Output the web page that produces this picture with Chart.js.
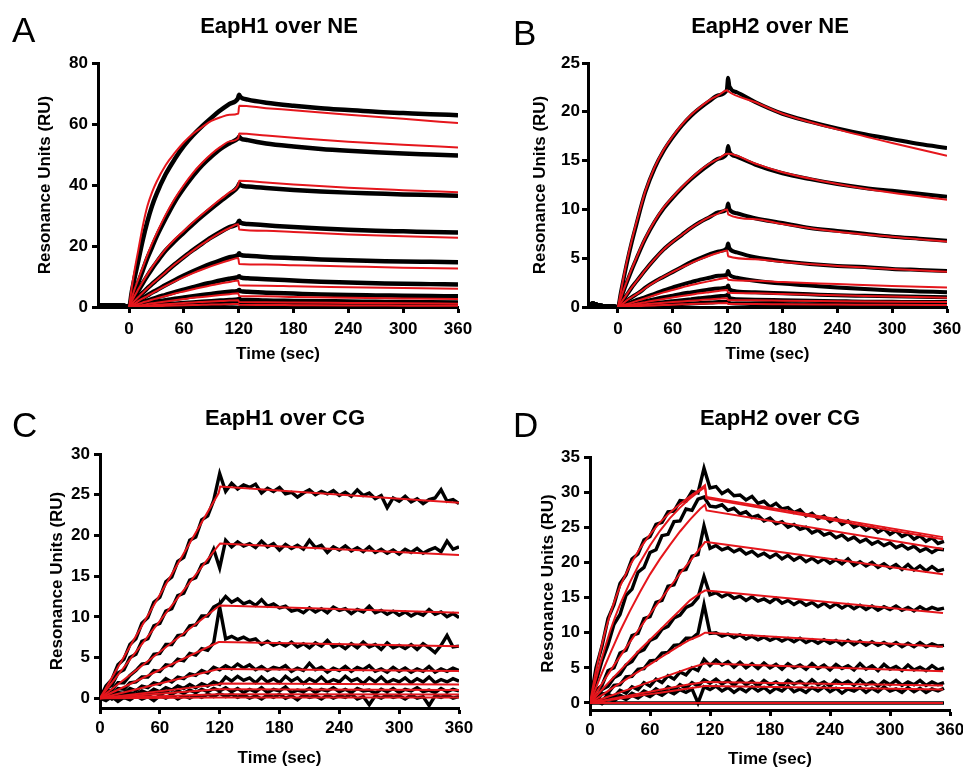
<!DOCTYPE html>
<html>
<head>
<meta charset="utf-8">
<script src="https://cdn.jsdelivr.net/npm/chart.js@4.4.1/dist/chart.umd.min.js"></script>
<style>
    body { margin: 0; background: #fff; width: 963px; height: 770px; position: relative; overflow: hidden; }
    canvas { position: absolute; }
</style>
</head>
<body>
<canvas id="cA" width="481" height="385" style="left:0;top:0"></canvas>
<canvas id="cB" width="482" height="385" style="left:481px;top:0"></canvas>
<canvas id="cC" width="481" height="385" style="left:0;top:385px"></canvas>
<canvas id="cD" width="482" height="385" style="left:481px;top:385px"></canvas>
<script>
// ---- data ----
const xTicks = [0, 60, 120, 180, 240, 300, 360];

// A: EapH1 over NE
const timeA = [-34, -20, -5, 0, 3, 6, 10, 15, 20, 25, 30, 40, 50, 60, 70, 80, 90, 100, 110, 119, 120.5, 122, 130, 150, 180, 210, 240, 270, 300, 330, 360];
const blackA = [
    [0.5, 0.4, 0.3, 0, 5, 9.5, 15, 22, 28, 33, 37, 43.5, 48.5, 52.8, 56.3, 59.3, 62, 64.5, 66.6, 68.3, 69.6, 68.8, 68, 67, 66, 65.2, 64.6, 64, 63.6, 63.2, 62.9],
    [0.5, 0.4, 0.3, 0, 2.5, 5, 8, 12, 16, 19.5, 23, 29, 34.5, 39, 43, 46.5, 49.3, 51.8, 53.7, 55.2, 55.8, 55.3, 54.7, 53.6, 52.6, 51.8, 51.2, 50.7, 50.3, 50, 49.7],
    [0.5, 0.4, 0.3, 0, 1.7, 3.3, 5.3, 7.8, 10.2, 12.5, 14.6, 18.5, 21.6, 24.4, 27.2, 29.8, 32.3, 34.7, 37, 39.4, 40.4, 39.9, 39.5, 39, 38.4, 37.9, 37.5, 37.2, 36.9, 36.7, 36.5],
    [0.5, 0.4, 0.3, 0, 1, 2, 3.2, 4.7, 6.1, 7.5, 8.8, 11.4, 14, 16.4, 18.7, 20.8, 22.8, 24.6, 26.2, 27.4, 28.3, 27.6, 27.2, 26.8, 26.2, 25.7, 25.3, 25, 24.8, 24.6, 24.4],
    [0.5, 0.4, 0.3, 0, 0.6, 1.2, 2, 2.9, 3.8, 4.7, 5.5, 7.2, 8.8, 10.3, 11.7, 13, 14.2, 15.3, 16.3, 17, 17.6, 17.1, 16.8, 16.4, 16, 15.6, 15.3, 15.1, 14.9, 14.8, 14.7],
    [0.5, 0.4, 0.3, 0, 0.3, 0.7, 1.1, 1.6, 2.1, 2.6, 3.1, 4, 4.9, 5.7, 6.5, 7.3, 8, 8.7, 9.3, 9.8, 10.1, 9.7, 9.4, 9.1, 8.7, 8.3, 8, 7.8, 7.6, 7.5, 7.4],
    [0.5, 0.4, 0.3, 0, 0.2, 0.35, 0.6, 0.85, 1.1, 1.4, 1.7, 2.2, 2.7, 3.1, 3.5, 3.9, 4.3, 4.7, 5, 5.3, 5.6, 5.2, 5, 4.7, 4.4, 4.1, 3.9, 3.8, 3.7, 3.6, 3.5],
    [0.5, 0.4, 0.3, 0, 0.1, 0.2, 0.3, 0.4, 0.5, 0.6, 0.7, 0.9, 1.1, 1.3, 1.5, 1.7, 1.9, 2.1, 2.3, 2.5, 2.7, 2.4, 2.3, 2.1, 2, 1.9, 1.8, 1.7, 1.6, 1.55, 1.5],
    [0.5, 0.4, 0.3, 0, 0.05, 0.1, 0.15, 0.2, 0.25, 0.3, 0.35, 0.45, 0.55, 0.65, 0.75, 0.85, 0.95, 1.05, 1.15, 1.2, 1.3, 1.1, 1, 0.9, 0.8, 0.75, 0.7, 0.6, 0.55, 0.5, 0.5]
];
const fitTimeA = [0, 3, 6, 10, 15, 20, 25, 30, 40, 50, 60, 70, 80, 90, 100, 110, 119.5, 120.5, 150, 180, 240, 300, 360];
const fitA = [
    [0, 6.5, 12, 18.5, 26.5, 33, 37.5, 41, 46.5, 50.5, 54, 56.8, 59, 61, 62.2, 63, 63.4, 66, 65.2, 64.5, 63, 61.7, 60.3],
    [0, 3, 5.8, 9, 13, 17, 20.7, 24, 30.2, 35.5, 40, 44, 47.3, 50.2, 52.5, 54.3, 55.3, 56.9, 56.2, 55.5, 54.2, 53.2, 52.3],
    [0, 1.9, 3.6, 5.7, 8.3, 10.7, 13, 15.1, 19, 22.2, 25, 27.8, 30.4, 32.9, 35.3, 37.6, 40.2, 41.4, 40.8, 40.2, 39.1, 38.3, 37.6],
    [0, 1, 2, 3.2, 4.7, 6.1, 7.5, 8.8, 11.4, 14, 16.3, 18.5, 20.6, 22.6, 24.4, 25.9, 27.1, 25.4, 25, 24.6, 23.8, 23.2, 22.7],
    [0, 0.6, 1.1, 1.9, 2.8, 3.6, 4.5, 5.3, 6.9, 8.4, 9.8, 11.1, 12.3, 13.4, 14.4, 15.3, 16.1, 14.1, 13.9, 13.7, 13.3, 12.9, 12.6],
    [0, 0.3, 0.6, 1, 1.5, 1.9, 2.4, 2.8, 3.6, 4.4, 5.1, 5.8, 6.5, 7.1, 7.7, 8.2, 8.7, 7.1, 7, 6.8, 6.5, 6.2, 6],
    [0, 0.15, 0.3, 0.5, 0.7, 0.95, 1.2, 1.4, 1.8, 2.2, 2.6, 3, 3.3, 3.6, 3.9, 4.2, 4.5, 3.6, 3.5, 3.3, 3, 2.8, 2.6],
    [0, 0.07, 0.14, 0.23, 0.35, 0.47, 0.58, 0.7, 0.9, 1.1, 1.3, 1.5, 1.65, 1.8, 1.95, 2.1, 2.2, 1.6, 1.55, 1.5, 1.35, 1.2, 1.1],
    [0, 0.03, 0.06, 0.1, 0.15, 0.2, 0.25, 0.3, 0.38, 0.46, 0.54, 0.62, 0.7, 0.78, 0.86, 0.93, 1, 0.7, 0.65, 0.6, 0.5, 0.45, 0.4]
];

// B: EapH2 over NE
const timeB = [-33, -28, -20, -5, 0, 3, 6, 10, 15, 20, 25, 30, 40, 50, 60, 70, 80, 90, 100, 110, 119, 120.5, 122, 130, 150, 180, 210, 240, 270, 300, 330, 360];
const blackB = [
    [0.1, 0.35, 0.15, 0.05, 0, 1.4, 2.8, 4.6, 6.6, 8.4, 10.2, 11.8, 14.2, 16, 17.4, 18.6, 19.6, 20.4, 21.1, 21.7, 22.2, 23.5, 22.6, 22, 21, 19.8, 19, 18.3, 17.7, 17.2, 16.7, 16.3],
    [0.1, 0.35, 0.15, 0.05, 0, 0.8, 1.6, 2.6, 3.8, 4.9, 6, 7, 8.7, 10.1, 11.2, 12.2, 13.1, 13.9, 14.6, 15.2, 15.7, 16.5, 15.9, 15.4, 14.6, 13.7, 13.1, 12.6, 12.2, 11.9, 11.6, 11.3],
    [0.1, 0.35, 0.15, 0.05, 0, 0.4, 0.8, 1.3, 2, 2.6, 3.2, 3.8, 4.9, 5.9, 6.7, 7.4, 8.1, 8.7, 9.2, 9.7, 10, 10.6, 10, 9.6, 9.1, 8.6, 8.1, 7.8, 7.5, 7.2, 7, 6.8],
    [0.1, 0.35, 0.15, 0.05, 0, 0.2, 0.4, 0.7, 1, 1.3, 1.6, 2, 2.6, 3.1, 3.6, 4.1, 4.6, 5, 5.4, 5.7, 6, 6.5, 6, 5.6, 5.1, 4.7, 4.4, 4.2, 4.1, 3.9, 3.8, 3.7],
    [0.1, 0.35, 0.15, 0.05, 0, 0.1, 0.2, 0.35, 0.5, 0.7, 0.85, 1, 1.35, 1.7, 2, 2.3, 2.55, 2.8, 3, 3.2, 3.3, 3.7, 3.3, 3, 2.7, 2.4, 2.2, 2, 1.85, 1.7, 1.6, 1.5],
    [0.1, 0.35, 0.15, 0.05, 0, 0.05, 0.1, 0.2, 0.3, 0.4, 0.5, 0.6, 0.8, 1, 1.15, 1.35, 1.5, 1.65, 1.8, 1.9, 2, 2.2, 1.8, 1.6, 1.5, 1.4, 1.3, 1.2, 1.15, 1.1, 1.05, 1],
    [0.1, 0.35, 0.15, 0.05, 0, 0.03, 0.06, 0.1, 0.15, 0.2, 0.25, 0.3, 0.4, 0.5, 0.6, 0.7, 0.8, 0.9, 1, 1.1, 1.2, 1.3, 0.9, 0.8, 0.75, 0.7, 0.65, 0.6, 0.55, 0.55, 0.5, 0.5],
    [0.1, 0.35, 0.15, 0.05, 0, 0.01, 0.02, 0.04, 0.06, 0.08, 0.1, 0.12, 0.16, 0.2, 0.25, 0.3, 0.35, 0.4, 0.45, 0.5, 0.5, 0.6, 0.4, 0.35, 0.3, 0.3, 0.25, 0.25, 0.2, 0.2, 0.2, 0.2]
];
const fitTimeB = [0, 3, 6, 10, 15, 20, 25, 30, 40, 50, 60, 70, 80, 90, 100, 110, 119.5, 120.5, 150, 180, 240, 300, 360];
const fitB = [
    [0, 1.5, 3, 4.8, 6.8, 8.6, 10.3, 11.9, 14.3, 16.1, 17.5, 18.7, 19.7, 20.5, 21.2, 21.7, 22.2, 22.1, 21, 19.8, 18.2, 16.8, 15.5],
    [0, 0.85, 1.7, 2.7, 3.9, 5, 6.1, 7.1, 8.8, 10.2, 11.3, 12.3, 13.2, 14, 14.7, 15.2, 15.7, 15.7, 14.7, 13.8, 12.6, 11.7, 11],
    [0, 0.4, 0.8, 1.35, 2, 2.6, 3.2, 3.8, 4.9, 5.9, 6.7, 7.4, 8.1, 8.7, 9.2, 9.6, 10, 9.5, 9, 8.5, 7.7, 7.2, 6.7],
    [0, 0.2, 0.4, 0.7, 1, 1.3, 1.6, 1.95, 2.55, 3.1, 3.6, 4.05, 4.5, 4.9, 5.25, 5.55, 5.8, 5.2, 4.9, 4.6, 4.2, 3.9, 3.6],
    [0, 0.1, 0.2, 0.3, 0.45, 0.6, 0.75, 0.9, 1.2, 1.5, 1.75, 2, 2.25, 2.45, 2.65, 2.85, 3, 2.8, 2.7, 2.55, 2.35, 2.15, 2],
    [0, 0.05, 0.1, 0.17, 0.25, 0.33, 0.42, 0.5, 0.67, 0.83, 0.98, 1.12, 1.26, 1.4, 1.52, 1.64, 1.75, 1.45, 1.4, 1.32, 1.2, 1.07, 0.95],
    [0, 0.03, 0.06, 0.1, 0.14, 0.18, 0.22, 0.27, 0.35, 0.43, 0.5, 0.57, 0.64, 0.71, 0.78, 0.84, 0.9, 0.7, 0.68, 0.65, 0.6, 0.55, 0.5],
    [0, 0.01, 0.02, 0.04, 0.06, 0.08, 0.1, 0.12, 0.16, 0.2, 0.23, 0.27, 0.3, 0.33, 0.36, 0.38, 0.4, 0.3, 0.3, 0.28, 0.25, 0.22, 0.2]
];

// C: EapH1 over CG
const timeC = [0, 6, 12, 18, 24, 30, 36, 42, 48, 54, 60, 66, 72, 78, 84, 90, 96, 102, 108, 114, 120, 126, 132, 138, 144, 150, 156, 162, 168, 174, 180, 186, 192, 198, 204, 210, 216, 222, 228, 234, 240, 246, 252, 258, 264, 270, 276, 282, 288, 294, 300, 306, 312, 318, 324, 330, 336, 342, 348, 354, 360];
const blackC = [
    [0, 1.5, 2.3, 4.1, 4.8, 6.6, 7.3, 9.2, 9.9, 11.8, 12.4, 14.3, 14.9, 16.8, 17.3, 19.4, 19.8, 21.9, 22.4, 24.3, 27.6,
     25.4, 26.4, 25.7, 26.2, 25.9, 26.3, 25.2, 25.8, 25.4, 25.9, 25.1, 25.3, 24.7, 25.2, 25.6, 25.0, 25.4, 25.1, 25.5, 24.9,
     25.3, 24.8, 25.6, 24.9, 25.2, 24.5, 24.9, 23.4, 24.6, 24.2, 24.8, 24.1, 24.5, 23.9, 24.4, 24.6, 25.6, 24.2, 24.4, 23.9],
    [0, 1.2, 1.6, 3.1, 3.5, 5.0, 5.4, 7.0, 7.3, 8.9, 9.2, 10.7, 11.0, 12.6, 12.9, 14.5, 14.8, 16.4, 16.7, 18.3, 16.0,
     19.4, 18.6, 19.2, 18.7, 19.0, 18.5, 19.3, 18.6, 19.0, 18.2, 18.9, 18.4, 18.8, 18.3, 19.4, 18.5, 18.8, 17.9, 18.6, 18.2,
     18.7, 18.1, 18.5, 18.0, 18.6, 17.9, 18.3, 17.8, 18.2, 17.7, 18.3, 17.9, 18.4, 17.8, 18.2, 18.5, 18.0, 19.3, 18.3, 18.6],
    [0, 0.9, 1.0, 1.9, 1.9, 2.8, 3.4, 4.2, 4.3, 5.4, 5.5, 6.6, 6.6, 7.7, 7.8, 8.9, 9.0, 10.1, 10.1, 11.2, 11.6,
     12.5, 11.8, 12.2, 11.6, 11.9, 11.4, 12.1, 11.3, 11.6, 11.1, 11.3, 10.7, 10.9, 10.5, 11.1, 10.6, 11.0, 10.5, 11.2, 10.8,
     11.0, 10.4, 10.9, 10.6, 11.3, 10.5, 10.8, 10.3, 10.7, 10.2, 10.6, 10.1, 10.5, 10.2, 10.9, 10.3, 10.6, 10.0, 10.4, 9.9],
    [0, 0.6, 0.5, 1.2, 1.1, 1.9, 2.0, 2.6, 2.6, 3.4, 3.3, 4.1, 4.0, 4.8, 4.6, 5.5, 5.3, 6.1, 5.9, 6.8, 11.2,
     7.3, 7.6, 7.2, 7.5, 7.1, 7.3, 6.6, 7.0, 6.5, 6.8, 6.4, 6.9, 6.3, 6.7, 6.2, 6.8, 6.4, 7.1, 6.3, 6.6,
     6.1, 6.7, 6.2, 6.9, 6.3, 6.6, 6.0, 6.8, 6.2, 6.5, 6.1, 6.6, 6.0, 6.7, 6.2, 5.6, 6.5, 7.7, 6.3, 6.4],
    [0, 0.5, 0.2, 0.7, 0.6, 1.2, 0.9, 1.5, 1.3, 1.9, 1.7, 2.4, 2.0, 2.6, 2.4, 3.0, 2.8, 3.4, 3.1, 3.8, 3.5,
     4.0, 3.6, 4.2, 3.7, 4.1, 3.5, 3.9, 3.4, 3.8, 3.6, 4.0, 3.3, 3.7, 3.4, 4.3, 3.5, 3.8, 3.2, 3.7, 3.4,
     3.9, 3.3, 3.8, 3.5, 4.0, 3.3, 3.6, 3.2, 3.8, 3.3, 3.7, 3.2, 3.6, 3.3, 3.9, 3.2, 3.6, 3.3, 3.7, 3.4],
    [0, 0.4, 0.1, 0.5, 0.3, 0.7, 0.5, 0.9, 0.6, 1.1, 0.8, 1.3, 1.0, 1.5, 1.2, 1.7, 1.3, 1.8, 1.5, 2.0, 1.7,
     2.6, 2.1, 2.7, 2.2, 2.5, 1.9, 2.6, 2.0, 2.4, 1.9, 2.7, 2.1, 2.5, 1.8, 2.4, 2.0, 2.6, 1.9, 2.3, 2.0,
     2.7, 2.1, 2.4, 1.8, 2.5, 2.0, 2.6, 1.9, 2.3, 2.0, 2.5, 1.9, 2.4, 2.0, 2.6, 1.9, 2.3, 2.0, 2.4, 2.1],
    [0, 0.3, -0.1, 0.3, 0.1, 0.4, 0.2, 0.6, 0.3, 0.7, 0.4, 0.8, 0.5, 0.9, 0.6, 1.0, 0.7, 1.1, 0.8, 1.2, 0.9,
     1.3, 0.8, 1.2, 0.7, 1.1, 0.8, 1.3, 0.7, 1.1, 0.9, 1.4, 0.7, 1.0, 0.8, 1.2, 0.7, 1.1, 0.9, 1.3, 0.8,
     1.1, 0.7, 1.2, 0.9, 1.0, 0.6, 1.1, 0.8, 1.2, 0.7, 1.1, 0.9, 1.3, 0.8, 1.0, 0.7, 1.2, 0.8, 1.1, 0.9],
    [0, -0.3, 0.2, -0.4, 0.1, -0.2, 0.3, -0.1, 0.2, -0.3, 0.3, 0, 0.4, -0.1, 0.3, 0, 0.4, 0.1, 0.5, 0.2, 0.6,
     0.2, 0.5, 0.1, 0.4, 0, 0.3, -0.1, 0.4, 0.1, 0.5, 0, 0.3, -0.2, 0.4, 0.1, 0.3, -0.1, 0.4, 0, 0.3,
     0.1, 0.5, -0.1, 0.2, -0.8, 0.3, 0, 0.4, 0.1, 0.3, -0.1, 0.4, 0, 0.2, -0.9, 0.3, 0.1, 0.4, 0, 0.2]
];
const fitTimeC = [0, 119, 120.5, 360];
const fitC = [
    [0, 25.2, 26, 24], [0, 18.8, 19, 17.6], [0, 11.3, 11.4, 10.5], [0, 6.9, 6.9, 6.4], [0, 3.6, 3.6, 3.35],
    [0, 1.7, 1.8, 1.7], [0, 1.1, 1.1, 1], [0, 0.5, 0.5, 0.45], [0, 0.1, 0.1, 0.1]
];

// D: EapH2 over CG
const timeD = [0, 6, 12, 18, 24, 30, 36, 42, 48, 54, 60, 66, 72, 78, 84, 90, 96, 102, 108, 114, 120, 126, 132, 138, 144, 150, 156, 162, 168, 174, 180, 186, 192, 198, 204, 210, 216, 222, 228, 234, 240, 246, 252, 258, 264, 270, 276, 282, 288, 294, 300, 306, 312, 318, 324, 330, 336, 342, 348, 354];
const blackD = [
    [0, 5.0, 8.1, 12.0, 14.0, 17.0, 18.2, 20.5, 21.2, 23.2, 23.7, 25.4, 25.7, 27.2, 27.3, 28.8, 28.7, 30.1, 29.9, 33.4,
     30.6, 30.8, 29.8, 30.3, 29.5, 29.6, 28.9, 29.4, 28.4, 28.7, 27.9, 28.4, 27.6, 27.8, 27.1, 27.5, 26.6, 27.0, 26.2, 26.6,
     25.8, 26.3, 25.4, 25.9, 25.0, 25.4, 24.6, 25.1, 24.3, 24.8, 24.0, 24.5, 23.7, 24.1, 23.3, 23.8, 23.0, 23.5, 22.7, 23.0],
    [0, 3.0, 6.0, 8.3, 11.2, 12.6, 15.3, 16.2, 18.6, 19.3, 21.4, 21.8, 23.8, 24.0, 25.8, 25.9, 27.6, 27.4, 29.0, 29.3,
     28.0, 27.9, 28.2, 27.4, 27.7, 26.9, 27.2, 26.4, 26.7, 25.9, 26.3, 25.5, 25.8, 25.0, 25.4, 24.7, 25.0, 24.2, 24.6, 23.9,
     24.2, 23.5, 23.9, 23.2, 23.6, 22.9, 23.3, 22.6, 23.0, 22.4, 22.8, 22.1, 22.5, 21.9, 22.3, 21.6, 22.0, 21.4, 21.9, 21.8],
    [0, 1.8, 2.5, 4.6, 5.0, 7.1, 7.5, 9.6, 9.9, 12.0, 12.3, 14.3, 14.6, 16.6, 16.8, 18.8, 19.0, 20.9, 21.1, 25.2,
     22.0, 22.4, 21.8, 22.1, 21.5, 21.9, 21.2, 21.6, 20.9, 21.3, 20.7, 21.2, 20.5, 21.0, 20.3, 20.8, 20.1, 20.6, 20.0, 20.5,
     19.9, 20.4, 19.8, 20.5, 19.6, 20.1, 19.5, 20.0, 19.3, 19.8, 19.2, 19.7, 19.0, 19.7, 18.9, 19.5, 18.8, 19.4, 18.8, 19.0],
    [0, 0.8, 1.9, 2.4, 3.6, 4.1, 5.4, 5.9, 7.2, 7.6, 8.9, 9.3, 10.5, 10.9, 12.1, 12.5, 13.6, 14.0, 15.0, 18.0,
     15.4, 15.7, 15.1, 15.5, 14.9, 15.2, 14.6, 15.1, 14.5, 14.8, 14.3, 14.9, 14.2, 14.6, 14.0, 14.5, 13.9, 14.3, 13.7, 14.2,
     13.6, 14.1, 13.5, 14.0, 13.4, 13.9, 13.3, 13.8, 13.2, 13.7, 13.3, 13.8, 13.2, 13.6, 13.1, 13.7, 13.2, 13.6, 13.3, 13.5],
    [0, 0.2, 1.3, 1.4, 2.5, 2.6, 3.7, 3.8, 4.8, 4.9, 6.0, 6.1, 7.1, 7.2, 8.2, 8.3, 9.2, 9.2, 9.9, 14.0,
     9.9, 10.0, 9.5, 9.8, 9.3, 9.7, 9.1, 9.5, 9.0, 9.4, 8.9, 9.3, 8.8, 9.2, 8.7, 9.2, 8.6, 9.0, 8.5, 9.0,
     8.5, 8.9, 8.3, 8.9, 8.3, 8.8, 8.2, 8.7, 8.2, 8.6, 8.1, 8.6, 8.0, 8.5, 8.0, 8.6, 8.0, 8.4, 8.1, 8.2],
    [0, 0.7, 0.3, 1.2, 0.9, 1.8, 1.4, 2.3, 1.9, 2.9, 2.4, 3.4, 2.9, 3.9, 3.4, 4.4, 4.0, 5.0, 4.6, 6.2,
     5.3, 6.1, 5.4, 5.9, 5.1, 5.8, 5.0, 5.6, 4.9, 5.7, 5.0, 5.5, 4.8, 5.6, 5.0, 5.4, 4.8, 5.6, 4.9, 5.4,
     4.7, 5.5, 4.9, 5.3, 4.7, 5.6, 4.8, 5.3, 4.6, 5.5, 4.8, 5.2, 4.6, 5.4, 4.7, 5.1, 4.6, 5.3, 4.7, 5.0],
    [0, 0.5, 0.1, 0.8, 0.4, 1.1, 0.7, 1.4, 1.0, 1.7, 1.3, 2.0, 1.5, 2.3, 1.8, 2.6, 2.1, 2.9, 2.4, 3.3,
     2.8, 3.4, 2.7, 3.2, 2.5, 3.3, 2.6, 3.1, 2.4, 3.2, 2.6, 3.0, 2.4, 3.2, 2.7, 3.1, 2.5, 3.3, 2.6, 3.0,
     2.4, 3.2, 2.7, 3.1, 2.5, 3.3, 2.6, 3.0, 2.4, 3.1, 2.6, 3.2, 2.5, 3.0, 2.6, 3.2, 2.5, 3.0, 2.6, 2.9],
    [0, 0.4, -0.1, 0.6, 0.3, 0.9, 0.5, 1.1, 0.7, 1.3, 0.9, 1.5, 1.1, 1.7, 1.3, 1.9, 1.5, 2.0, 0.0, 2.3,
     1.9, 2.4, 1.7, 2.2, 1.5, 2.1, 1.6, 2.3, 1.7, 2.2, 1.5, 2.1, 1.7, 2.4, 1.6, 2.0, 1.5, 2.2, 1.7, 2.3,
     1.6, 2.1, 1.4, 2.0, 1.7, 2.2, 1.5, 2.1, 1.6, 2.3, 1.7, 2.0, 1.5, 2.2, 1.6, 2.1, 1.5, 2.0, 1.7, 2.1]
];
const baseTimeD = [0, 354];
const baseD = [0, 0];
const fitTimeD = [0, 5, 10, 15, 20, 25, 30, 40, 50, 60, 70, 80, 90, 100, 110, 115, 116.5, 353];
const fitD = [
    [0, 3.9, 7.2, 10.1, 12.6, 14.7, 16.6, 19.6, 22.0, 24.0, 25.7, 27.1, 28.3, 29.4, 30.4, 31.0, 29.3, 23.6],
    [0, 2.9, 5.5, 7.9, 10.2, 12.2, 14, 17.2, 20, 22.4, 24.5, 26.3, 27.8, 29.1, 30.2, 30.7, 29.1, 23.3],
    [0, 1.8, 3.6, 5.3, 7, 8.6, 10.2, 13.1, 15.8, 18.3, 20.5, 22.5, 24.4, 26.1, 27.6, 28.2, 27.4, 21.9],
    [0, 1.15, 2.3, 3.4, 4.5, 5.6, 6.6, 8.7, 10.7, 12.7, 14.6, 16.5, 18.4, 20.2, 22, 22.9, 22.9, 18.3],
    [0, 0.8, 1.6, 2.35, 3.1, 3.85, 4.6, 6.1, 7.6, 9, 10.4, 11.8, 13.2, 14.6, 15.6, 16, 16, 12.8],
    [0, 0.48, 0.95, 1.4, 1.9, 2.35, 2.8, 3.7, 4.6, 5.5, 6.4, 7.3, 8.2, 9, 9.6, 10, 10, 8],
    [0, 0.25, 0.5, 0.75, 1, 1.25, 1.5, 2, 2.5, 3, 3.5, 4, 4.5, 5, 5.4, 5.6, 5.6, 4.5],
    [0, 0.14, 0.27, 0.4, 0.54, 0.67, 0.8, 1.07, 1.34, 1.6, 1.87, 2.13, 2.4, 2.65, 2.88, 3, 3, 2.5],
    [0, 0.11, 0.22, 0.33, 0.43, 0.54, 0.64, 0.85, 1.05, 1.26, 1.47, 1.67, 1.88, 2.1, 2.3, 2.4, 2.4, 1.9],
    [0, 0, 0, 0, 0, 0, 0, 0, 0, 0, 0, 0, 0, 0, 0, 0, 0, 0]
];

// ---- drawing ----
const FONT = '"Liberation Sans", Arial, Helvetica, sans-serif';
const RED = '#e5161c';
Chart.defaults.font.family = FONT;
Chart.defaults.color = '#000';

const toPoints = (times, values) => values.map((y, i) => ({ x: times[i], y }));

const lineSet = (times, values, color, width, smooth, order) => ({
    data: toPoints(times, values),
    borderColor: color,
    borderWidth: width,
    pointRadius: 0,
    fill: false,
    tension: 0,
    cubicInterpolationMode: smooth ? 'monotone' : 'default',
    borderJoinStyle: smooth ? 'round' : 'miter',
    order
});

// panel letter and title
const panelText = {
    id: 'panelText',
    afterDraw(chart, args, opts) {
        const ctx = chart.ctx;
        ctx.save();
        ctx.fillStyle = '#000';
        ctx.textBaseline = 'alphabetic';
        ctx.textAlign = 'left';
        ctx.font = '35px ' + FONT;
        ctx.fillText(opts.letter, opts.letterX, opts.letterY);
        ctx.textAlign = 'center';
        ctx.font = 'bold 22px ' + FONT;
        ctx.fillText(opts.title, opts.titleX, opts.titleY);
        ctx.restore();
    }
};

const axisStyle = (tickPad) => ({
    ticks: { autoSkip: false, maxRotation: 0, padding: tickPad, color: '#000', font: { size: 17, weight: 'bold' } },
    grid: { drawOnChartArea: false, drawTicks: true, tickLength: 6, tickWidth: 3, tickColor: '#000' },
    border: { display: true, color: '#000', width: 3 }
});

const makePanel = (id, cfg, datasets) => {
    new Chart(document.getElementById(id), {
        type: 'line',
        data: { datasets },
        plugins: [panelText],
        options: {
            responsive: false,
            animation: false,
            events: [],
            layout: { padding: { top: cfg.padTop, right: cfg.padRight, left: 0, bottom: 0 } },
            plugins: {
                legend: { display: false },
                tooltip: { enabled: false },
                panelText: cfg.text
            },
            scales: {
                x: {
                    type: 'linear',
                    min: cfg.xMin,
                    max: 360,
                    ...axisStyle(cfg.xTickPad),
                    afterBuildTicks: (s) => { s.ticks = xTicks.map(v => ({ value: v })); },
                    afterFit: (s) => { s.height = cfg.xHeight; s.paddingLeft = 0; s.paddingRight = 0; },
                    title: { display: true, text: 'Time (sec)', color: '#000', font: { size: 17, weight: 'bold' }, padding: { top: 0, bottom: cfg.xTitlePad } }
                },
                y: {
                    type: 'linear',
                    min: cfg.yMin,
                    max: cfg.yMax,
                    ...axisStyle(cfg.yTickPad),
                    afterBuildTicks: (s) => { s.ticks = cfg.yTicks.map(v => ({ value: v })); },
                    afterFit: (s) => { s.width = cfg.yWidth; s.paddingTop = 0; s.paddingBottom = 0; },
                    title: { display: true, text: 'Resonance Units (RU)', color: '#000', font: { size: 17, weight: 'bold' }, padding: { top: cfg.yTitlePad, bottom: 0 } }
                }
            }
        }
    });
};

makePanel('cA', {
    padTop: 63, padRight: 23, yWidth: 98, xHeight: 78, xMin: -34, yMin: 0, yMax: 80,
    yTicks: [0, 20, 40, 60, 80], yTitlePad: 34.8, xTitlePad: 20.8, yTickPad: 4, xTickPad: 6,
    text: { letter: 'A', letterX: 12, letterY: 42, title: 'EapH1 over NE', titleX: 279, titleY: 33 }
}, [
    ...fitA.map(v => lineSet(fitTimeA, v, RED, 2, true, 0)),
    ...blackA.map(v => lineSet(timeA, v, '#000', 4.5, true, 1))
]);

makePanel('cB', {
    padTop: 63, padRight: 16, yWidth: 107, xHeight: 78, xMin: -32.8, yMin: 0, yMax: 25,
    yTicks: [0, 5, 10, 15, 20, 25], yTitlePad: 48.8, xTitlePad: 20.8, yTickPad: 2, xTickPad: 6,
    text: { letter: 'B', letterX: 32, letterY: 45, title: 'EapH2 over NE', titleX: 289, titleY: 33 }
}, [
    ...fitB.map(v => lineSet(fitTimeB, v, RED, 2, true, 0)),
    ...blackB.map(v => lineSet(timeB, v, '#000', 4, true, 1))
]);

makePanel('cC', {
    padTop: 69, padRight: 22, yWidth: 100, xHeight: 62, xMin: 0, yMin: -1.2, yMax: 30,
    yTicks: [0, 5, 10, 15, 20, 25, 30], yTitlePad: 46.8, xTitlePad: 1.8, yTickPad: 4, xTickPad: 4,
    text: { letter: 'C', letterX: 12, letterY: 52, title: 'EapH1 over CG', titleX: 285, titleY: 40 }
}, [
    ...fitC.map(v => lineSet(fitTimeC, v, RED, 2, false, 0)),
    ...blackC.map(v => lineSet(timeC, v, '#000', 3.4, false, 1))
]);

makePanel('cD', {
    padTop: 72, padRight: 13, yWidth: 109, xHeight: 60, xMin: 0, yMin: -1, yMax: 35,
    yTicks: [0, 5, 10, 15, 20, 25, 30, 35], yTitlePad: 56.8, xTitlePad: 0, yTickPad: 4, xTickPad: 4,
    text: { letter: 'D', letterX: 32, letterY: 52, title: 'EapH2 over CG', titleX: 299, titleY: 40 }
}, [
    ...fitD.map(v => lineSet(fitTimeD, v, RED, 2, false, 0)),
    ...blackD.map(v => lineSet(timeD, v, '#000', 3.4, false, 1)),
    lineSet(baseTimeD, baseD, '#000', 3.4, false, 1)
]);
</script>
</body>
</html>
